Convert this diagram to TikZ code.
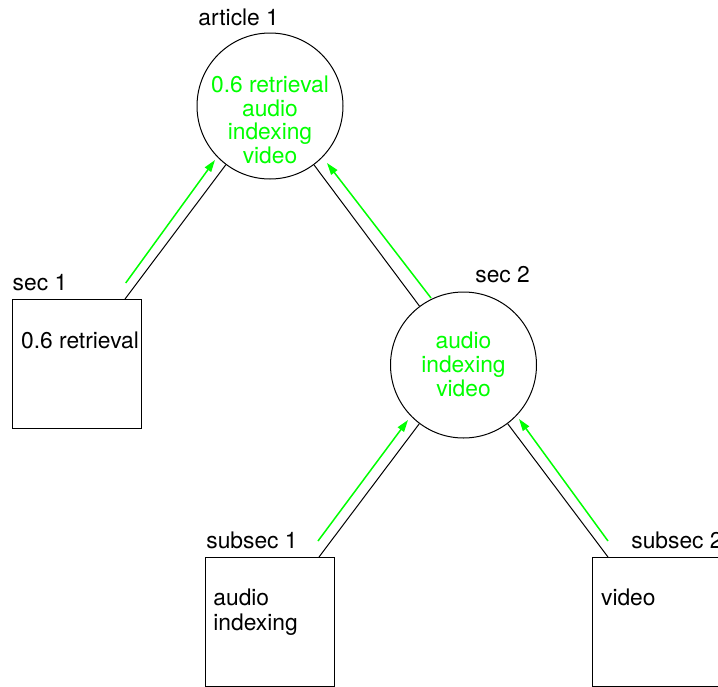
\documentclass[tikz,border=0pt]{standalone}
\usepackage{fontspec}
\setmainfont{TeX Gyre Heros}
\usetikzlibrary{arrows.meta}
\definecolor{flowgreen}{rgb}{0,1,0}
\tikzset{
  sect/.style={draw,circle,minimum size=73pt,inner sep=0pt,line width=0.5pt},
  leaf/.style={draw,rectangle,minimum size=64.5pt,inner sep=0pt,line width=0.5pt},
  tag/.style={anchor=base west,inner sep=0pt},
  words/.style={align=center,anchor=north,inner sep=0pt,text=flowgreen},
  leafwords/.style={align=left,anchor=north west,inner sep=0pt,
    font=\fontsize{11.4}{12.5}\selectfont},
  link/.style={line width=0.5pt},
  flow/.style={flowgreen,line width=0.75pt,-{Triangle[length=6pt,width=3.8pt]}}
}
\begin{document}
\begin{tikzpicture}[x=0.5pt,y=-0.5pt,font=\fontsize{11.4}{11.9}\selectfont]
\useasboundingbox (0,0) rectangle (718,686);
% tree
\node[sect] (art) at (270,106) {};
\node[sect] (sec2) at (463.5,365) {};
\node[leaf] (sec1) at (77,363.5) {};
\node[leaf] (sub1) at (270.3,621.5) {};
\node[leaf] (sub2) at (656.5,621.5) {};
% names
\node[tag] (artname) at (198,25) {article 1};
\node[tag] (sec1name) at (12.3,290.7) {sec 1};
\node[tag] (sec2name) at (475,282.7) {sec 2};
\node[tag] (sub1name) at (206,548) {subsec 1};
\node[tag] (sub2name) at (631,548) {subsec 2};
% terms
\node[words] (artterms) at (270,75.3) {0.6 retrieval\\audio\\indexing\\video};
\node[words] (sec2terms) at (463.5,331.9) {audio\\indexing\\video};
\node[leafwords] (sec1terms) at (20.7,331.9) {0.6 retrieval};
\node[leafwords] (sub1terms) at (213,588.6) {audio\\indexing};
\node[leafwords] (sub2terms) at (600.7,588.6) {video};
% tree edges
\coordinate (sec1top) at (125,299);
\coordinate (sub1top) at (319,557);
\coordinate (sub2top) at (608,557);
\foreach \from/\to in {sec1top/art,sec2/art,sub1top/sec2,sub2top/sec2}
  \draw[link] (\from) -- (\to);
% propagation
\foreach \name/\x/\y in {g1a/125.7/283, g1b/215/160, g2a/431/298, g2b/327/163,
    g3a/318/541, g3b/408/420, g4a/608/541, g4b/519/419}
  \coordinate (\name) at (\x,\y);
\foreach \from/\to in {g1a/g1b,g2a/g2b,g3a/g3b,g4a/g4b}
  \draw[flow] (\from) -- (\to);
\end{tikzpicture}
\end{document}
